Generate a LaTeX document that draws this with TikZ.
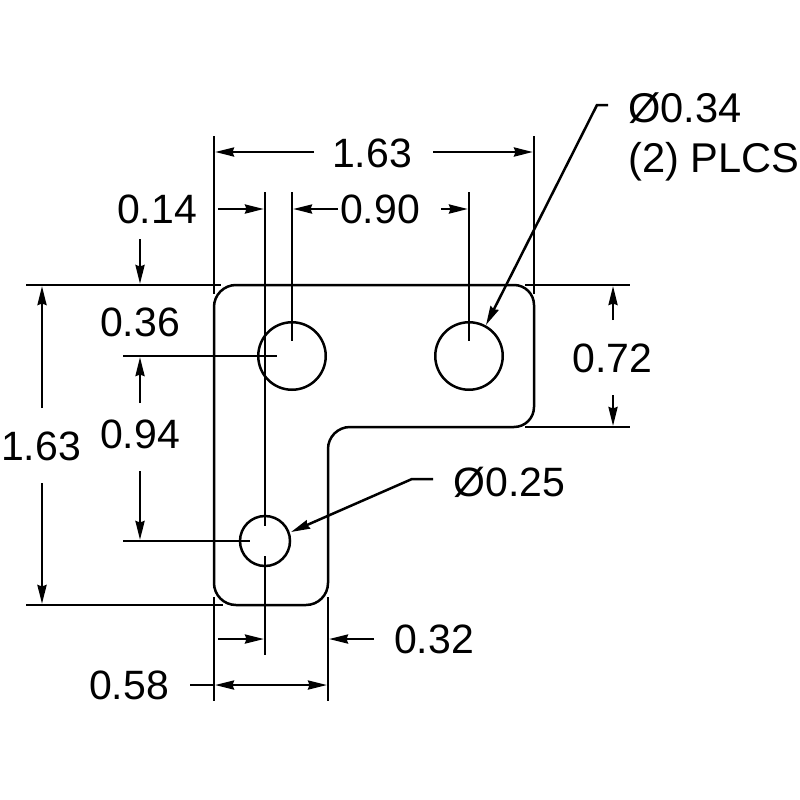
\documentclass[tikz,border=0pt]{standalone}
\usepackage{fontspec}
\setmainfont{Liberation Sans}
\usetikzlibrary{arrows.meta}
\tikzset{
  ln/.style={draw=black, line width=2.5pt},
  dim/.style={ln, -{Stealth[length=19pt,width=9pt,inset=1.5pt]}},
  dimb/.style={ln, {Stealth[length=19pt,width=9pt,inset=1.5pt]}-{Stealth[length=19pt,width=9pt,inset=1.5pt]}},
  hole/.style={circle,draw=black,line width=2.5pt,inner sep=0pt},
  lab/.style={anchor=base, inner sep=0pt, font=\fontsize{41pt}{46pt}\selectfont},
  labl/.style={anchor=base west, inner sep=0pt, font=\fontsize{41.6pt}{46pt}\selectfont},
}
\begin{document}
\begin{tikzpicture}[x=1pt,y=-1pt]
\useasboundingbox[fill=white] (0,0) rectangle (800,800);
% part outline
\draw[ln] (236,285) -- (514,285) arc[start angle=90,end angle=0,x radius=20pt,y radius=20pt]
  -- (534,407) arc[start angle=0,end angle=-90,x radius=20pt,y radius=20pt]
  -- (350,427) arc[start angle=90,end angle=180,x radius=22pt,y radius=22pt]
  -- (328,583) arc[start angle=0,end angle=-90,x radius=22pt,y radius=22pt]
  -- (236,605) arc[start angle=-90,end angle=-180,x radius=22pt,y radius=22pt]
  -- (214,307) arc[start angle=180,end angle=90,x radius=22pt,y radius=22pt] -- cycle;
% holes
\node[hole,minimum size=67.5pt] (h1) at (292,356) {};
\node[hole,minimum size=67.5pt] (h2) at (469,356) {};
\node[hole,minimum size=50pt] (h3) at (265,541) {};
% extension lines
\draw[ln] (214,136) -- (214,294);
\draw[ln] (534,136) -- (534,294);
\draw[ln] (265,192) -- (265,526);
\draw[ln] (265,556) -- (265,655);
\draw[ln] (292,192) -- (292,341);
\draw[ln] (469,192) -- (469,341);
\draw[ln] (26,285) -- (221,285);
\draw[ln] (525,285) -- (630,285);
\draw[ln] (525,427) -- (630,427);
\draw[ln] (26,605) -- (223,605);
\draw[ln] (123,356) -- (277,356);
\draw[ln] (123,541) -- (250,541);
\draw[ln] (214,597) -- (214,701);
\draw[ln] (328,597) -- (328,701);
% dimensions
\draw[dim] (314,152) -- (215,152);
\draw[dim] (433,152) -- (533,152);
\draw[dim] (218,209) -- (264,209);
\draw[dim] (338,209) -- (293,209);
\draw[dim] (441,209) -- (468,209);
\draw[dim] (140,239) -- (140,284);
\draw[dim] (140,403) -- (140,357);
\draw[dim] (140,471) -- (140,540);
\draw[dim] (613,320) -- (613,286);
\draw[dim] (613,395) -- (613,426);
\draw[dim] (42,408) -- (42,286);
\draw[dim] (42,483) -- (42,604);
\draw[dim] (218,639) -- (264,639);
\draw[dim] (374,639) -- (329,639);
\draw[ln] (190,685) -- (214,685);
\draw[dimb] (215,685) -- (327,685);
% leaders
\coordinate (l1) at (608,105);
\coordinate (l1b) at (597,105);
\coordinate (l2) at (433,479);
\coordinate (l2b) at (412,479);
\draw[dim] (l1) -- (l1b) -- (486,325);
\draw[dim] (l2) -- (l2b) -- (291,532);
% labels
\node[lab] (t1) at (372,167) {1.63};
\node[lab] (t2) at (157,223) {0.14};
\node[lab] (t3) at (380,223) {0.90};
\node[lab] (t4) at (140,336) {0.36};
\node[lab] (t5) at (140,448.5) {0.94};
\node[lab] (t6) at (41,460.5) {1.63};
\node[lab] (t7) at (612.5,372.5) {0.72};
\node[labl] (t8) at (628,122) {Ø0.34};
\node[labl] (t9) at (628,172.5) {(2) PLCS};
\node[lab] (t10) at (509.5,496) {Ø0.25};
\node[lab] (t11) at (434,653.5) {0.32};
\node[lab] (t12) at (129,699.5) {0.58};
\end{tikzpicture}
\end{document}
